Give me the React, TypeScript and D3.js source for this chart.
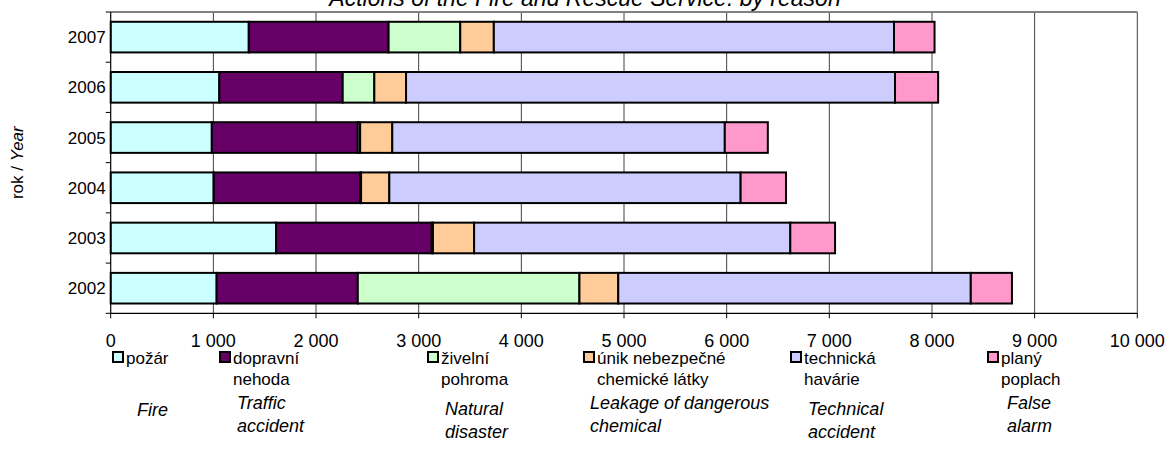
import React from "react";
import * as d3 from "d3";

const years = ["2007", "2006", "2005", "2004", "2003", "2002"];
const seriesKeys = ["fire", "traffic", "natural", "leak", "tech", "falseAlarm"];
const fire = [1345, 1058, 985, 1003, 1611, 1032];
const traffic = [1362, 1202, 1422, 1428, 1516, 1375];
const natural = [698, 308, 23, 8, 12, 2159];
const leak = [327, 309, 313, 275, 401, 378];
const tech = [3898, 4763, 3239, 3422, 3080, 3434];
const falseAlarm = [395, 420, 419, 442, 436, 401];
const seriesColors = ["#CCFFFF", "#660066", "#CCFFCC", "#FFCC99", "#CCCCFF", "#FF99CC"];
const czLine1 = ["požár", "dopravní", "živelní", "únik nebezpečné", "technická", "planý"];
const czLine2 = ["", "nehoda", "pohroma", "chemické látky", "havárie", "poplach"];
const enLine1 = ["Fire", "Traffic", "Natural", "Leakage of dangerous", "Technical", "False"];
const enLine2 = ["", "accident", "disaster", "chemical", "accident", "alarm"];
const xTicks = [0, 1000, 2000, 3000, 4000, 5000, 6000, 7000, 8000, 9000, 10000];
const titleText = "Actions of the Fire and Rescue Service: by reason";

const W = 1170;
const H = 468;
const FONT = "'Liberation Sans', Arial, sans-serif";

export default function App() {
  const left = 110.7, right = 1137.3, top = 12, bottom = 313.3;
  const x = d3.scaleLinear().domain([0, 10000]).range([left, right]);
  const y = d3.scaleBand<string>().domain(years).range([top, bottom]).paddingInner(0.39).paddingOuter(0.195);
  const rows = years.map((yr, i) => ({
    year: yr,
    fire: fire[i], traffic: traffic[i], natural: natural[i], leak: leak[i], tech: tech[i], falseAlarm: falseAlarm[i],
  }));
  const stack = d3.stack<any>().keys(seriesKeys)(rows);
  const fmt = (v: number) => d3.format(",")(v).replace(/,/g, " ");
  const step = y.step();
  const boundaries = d3.range(years.length + 1).map((i) => top + i * step);

  // legend layout
  const legX = [113, 220, 428, 584, 791, 988];
  const enX = [137, 237, 445, 590, 808, 1007];
  const enY1 = [410, 403, 409, 403, 409, 403];

  return (
    <svg width={W} height={H} style={{ position: "absolute", left: 0, top: 0, background: "#fff" }} fontFamily={FONT}>
      <rect x={0} y={0} width={W} height={H} fill="#fff" />
      <text x={585} y={6} fontSize={23} fontStyle="italic" textAnchor="middle">{titleText}</text>
      {/* gridlines */}
      {xTicks.slice(1).map((t) => (
        <line key={"g" + t} x1={x(t)} x2={x(t)} y1={top} y2={bottom} stroke="#404040" strokeWidth={1} />
      ))}
      <line x1={left} x2={right} y1={top} y2={top} stroke="#808080" strokeWidth={2} />
      {/* bars */}
      {stack.map((s, si) =>
        s.map((d, i) => (
          <rect key={si + "-" + i} x={x(d[0])} y={y(years[i])!} width={x(d[1]) - x(d[0])} height={y.bandwidth()}
            fill={seriesColors[si]} stroke="#000" strokeWidth={2} />
        ))
      )}
      {/* axes */}
      <line x1={left} x2={left} y1={top} y2={bottom} stroke="#000" strokeWidth={1.2} />
      <line x1={left} x2={right} y1={bottom} y2={bottom} stroke="#000" strokeWidth={1.2} />
      {boundaries.map((b, i) => (
        <line key={"yt" + i} x1={left - 5} x2={left} y1={b} y2={b} stroke="#000" strokeWidth={1} />
      ))}
      {xTicks.map((t) => (
        <g key={"xt" + t}>
          <line x1={x(t)} x2={x(t)} y1={bottom} y2={bottom + 5} stroke="#000" strokeWidth={1} />
          <text x={x(t)} y={bottom + 34} fontSize={18} textAnchor="middle">{fmt(t)}</text>
        </g>
      ))}
      {years.map((yr) => (
        <text key={"yl" + yr} x={left - 5} y={y(yr)! + y.bandwidth() / 2 + 6} fontSize={17} textAnchor="end">{yr}</text>
      ))}
      <text transform={`translate(23,${(top + bottom) / 2}) rotate(-90)`} fontSize={17} textAnchor="middle">
        rok / <tspan fontStyle="italic">Year</tspan>
      </text>
      {/* legend */}
      {seriesKeys.map((k, i) => (
        <g key={"lg" + k}>
          <rect x={legX[i]} y={352} width={10} height={10} fill={seriesColors[i]} stroke="#000" strokeWidth={2} />
          <text x={legX[i] + 13} y={364} fontSize={17}>{czLine1[i]}</text>
          <text x={legX[i] + 13} y={385} fontSize={17}>{czLine2[i]}</text>
          <text x={enX[i]} y={enY1[i] + 6} fontSize={18} fontStyle="italic">{enLine1[i]}</text>
          <text x={enX[i]} y={enY1[i] + 29} fontSize={18} fontStyle="italic">{enLine2[i]}</text>
        </g>
      ))}
    </svg>
  );
}
